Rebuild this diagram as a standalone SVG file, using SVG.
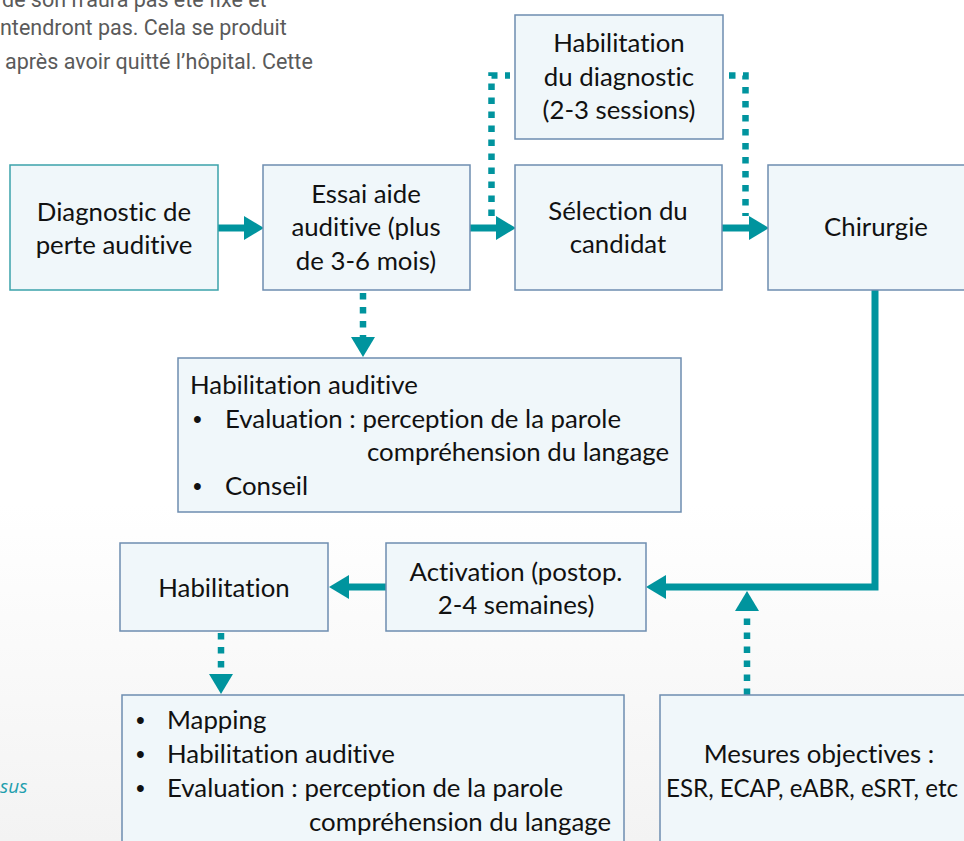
<svg xmlns="http://www.w3.org/2000/svg" width="964" height="841" viewBox="0 0 964 841">
  <defs>
    <linearGradient id="bg" x1="0" y1="0" x2="0" y2="841" gradientUnits="userSpaceOnUse">
      <stop offset="0" stop-color="#ffffff"/>
      <stop offset="0.6" stop-color="#ffffff"/>
      <stop offset="1" stop-color="#f3f3f3"/>
    </linearGradient>
    <marker id="solidHead" markerUnits="userSpaceOnUse" markerWidth="20" markerHeight="24" refX="0" refY="12" orient="auto" overflow="visible">
      <path d="M0,0 L20,12 L0,24 z" fill="#00949e"/>
    </marker>
    <marker id="dotHead" markerUnits="userSpaceOnUse" markerWidth="20" markerHeight="24" refX="0" refY="12" orient="auto" overflow="visible">
      <path d="M0,0 L20,12 L0,24 z" fill="#00949e"/>
    </marker>
  </defs>
  <style>
    .box { fill: #f0f7fa; stroke: #6e8db0; stroke-width: 1.5; }
    .box1 { fill: #f0f7fa; stroke: #3ba2aa; stroke-width: 1.5; }
    .t { font-family: Lato, "Open Sans", sans-serif; font-size: 25.8px; fill: #111111; font-variant-ligatures: none; }
    .b { font-family: "Liberation Sans", sans-serif; font-size: 25px; fill: #111111; }
    .c { text-anchor: middle; }
    .solid { fill: none; stroke: #00949e; stroke-width: 7; }
    .dot { fill: none; stroke: #00949e; stroke-width: 6.5; stroke-dasharray: 6.5 7.5; }
    .bg-text { font-family: Roboto, "Open Sans", sans-serif; font-size: 21.5px; fill: #5a5a5a; }
    .sus { font-family: "Open Sans", sans-serif; font-size: 19px; font-style: italic; fill: #1f9fae; }
  </style>
  <rect x="0" y="0" width="964" height="841" fill="url(#bg)"/>

  <g id="background-text">
    <text class="bg-text" x="2" y="7">de son n’aura pas été fixé et</text>
    <text class="bg-text" x="0" y="35">ntendront pas. Cela se produit</text>
    <text class="bg-text" x="5" y="69">après avoir quitté l’hôpital. Cette</text>
    <text class="sus" x="0" y="793">sus</text>
  </g>

  <g id="connectors">
    <line class="solid" x1="218" y1="228" x2="244" y2="228" marker-end="url(#solidHead)"/>
    <line class="solid" x1="470" y1="228" x2="496" y2="228" marker-end="url(#solidHead)"/>
    <line class="solid" x1="722" y1="228" x2="749" y2="228" marker-end="url(#solidHead)"/>
    <path class="dot" d="M491.5,216 V75.5 H510"/>
    <path class="dot" d="M729,75.5 H745.5 V216"/>
    <line class="dot" x1="363" y1="293" x2="363" y2="337" marker-end="url(#dotHead)"/>
    <path class="solid" d="M875,290 V587 H666" marker-end="url(#solidHead)"/>
    <line class="solid" x1="386" y1="587" x2="349" y2="587" marker-end="url(#solidHead)"/>
    <line class="dot" x1="747" y1="695" x2="747" y2="611" marker-end="url(#dotHead)"/>
    <line class="dot" x1="221" y1="633" x2="221" y2="674" marker-end="url(#dotHead)"/>
  </g>

  <g id="diagnostic">
    <rect class="box1" x="10" y="165" width="208" height="125"/>
    <text class="t c" x="114" y="221">Diagnostic de</text>
    <text class="t c" x="114" y="254">perte auditive</text>
  </g>

  <g id="essai">
    <rect class="box" x="263" y="165" width="207" height="125"/>
    <text class="t c" x="366" y="203">Essai aide</text>
    <text class="t c" x="366" y="236">auditive (plus</text>
    <text class="t c" x="366" y="270">de 3-6 mois)</text>
  </g>

  <g id="selection">
    <rect class="box" x="515" y="165" width="207" height="125"/>
    <text class="t c" x="618" y="220">Sélection du</text>
    <text class="t c" x="618" y="253">candidat</text>
  </g>

  <g id="chirurgie">
    <rect class="box" x="768" y="165" width="208" height="125"/>
    <text class="t c" x="876" y="236">Chirurgie</text>
  </g>

  <g id="habilitation-diagnostic">
    <rect class="box" x="515" y="15" width="208" height="124"/>
    <text class="t c" x="619" y="52">Habilitation</text>
    <text class="t c" x="619" y="86">du diagnostic</text>
    <text class="t c" x="619" y="119">(2-3 sessions)</text>
  </g>

  <g id="habilitation-auditive">
    <rect class="box" x="178" y="358" width="503" height="154"/>
    <text class="t" x="190" y="394">Habilitation auditive</text>
    <text class="b" x="193" y="428">•</text>
    <text class="t" x="225" y="428">Evaluation : perception de la parole</text>
    <text class="t" x="367" y="461">compréhension du langage</text>
    <text class="b" x="193" y="495">•</text>
    <text class="t" x="225" y="495">Conseil</text>
  </g>

  <g id="habilitation">
    <rect class="box" x="120" y="543" width="208" height="88"/>
    <text class="t c" x="224" y="597">Habilitation</text>
  </g>

  <g id="activation">
    <rect class="box" x="386" y="543" width="260" height="88"/>
    <text class="t c" x="516" y="581">Activation (postop.</text>
    <text class="t c" x="516" y="614">2-4 semaines)</text>
  </g>

  <g id="mapping">
    <rect class="box" x="122" y="695" width="502" height="160"/>
    <text class="b" x="136" y="729">•</text>
    <text class="t" x="167" y="729">Mapping</text>
    <text class="b" x="136" y="763">•</text>
    <text class="t" x="167" y="763">Habilitation auditive</text>
    <text class="b" x="136" y="797">•</text>
    <text class="t" x="167" y="797">Evaluation : perception de la parole</text>
    <text class="t" x="309" y="831">compréhension du langage</text>
  </g>

  <g id="mesures">
    <rect class="box" x="660" y="695" width="320" height="160"/>
    <text class="t c" x="819" y="763">Mesures objectives :</text>
    <text class="t" x="666" y="797" textLength="292" lengthAdjust="spacingAndGlyphs">ESR, ECAP, eABR, eSRT, etc</text>
  </g>
</svg>
